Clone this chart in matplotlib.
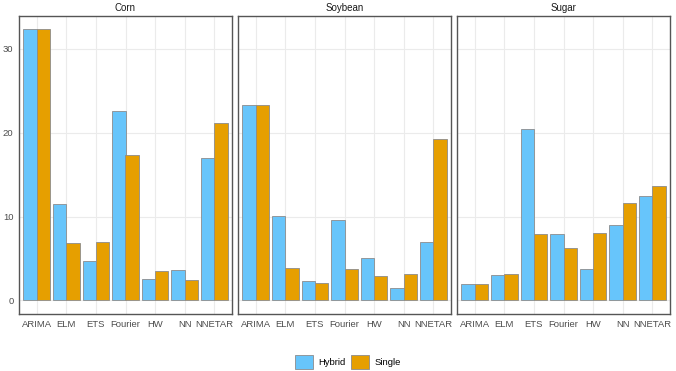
import numpy as np
import matplotlib as mpl

mpl.use("Agg")
mpl.rcParams["font.family"] = ["Liberation Sans", "DejaVu Sans"]

import matplotlib.pyplot as plt
from matplotlib.patches import Patch

methods = ["ARIMA", "ELM", "ETS", "Fourier", "HW", "NN", "NNETAR"]
crops = ["Corn", "Soybean", "Sugar"]

corn_hybrid = [32.3, 11.5, 4.7, 22.6, 2.5, 3.6, 17.0]
corn_single = [32.3, 6.8, 7.0, 17.3, 3.5, 2.4, 21.1]
soybean_hybrid = [23.3, 10.1, 2.3, 9.6, 5.0, 1.5, 7.0]
soybean_single = [23.3, 3.9, 2.1, 3.8, 2.9, 3.2, 19.2]
sugar_hybrid = [1.9, 3.0, 20.4, 7.9, 3.7, 9.0, 12.5]
sugar_single = [1.9, 3.1, 7.9, 6.2, 8.0, 11.6, 13.6]

hybrid = [corn_hybrid, soybean_hybrid, sugar_hybrid]
single = [corn_single, soybean_single, sugar_single]

hybrid_color = "#67C5FB"
single_color = "#E69F00"
edge_color = "#8C8C8C"
grid_color = "#EBEBEB"
text_color = "#4D4D4D"

fig = plt.figure(figsize=(6.76, 3.71), dpi=100)
W, H = 676.0, 371.0
lefts = [19, 238, 457]
pw = 213
top, bottom = 16, 314

x = np.arange(1, len(methods) + 1)
bw = 0.45
axes = []
for i, crop in enumerate(crops):
    ax = fig.add_axes([lefts[i] / W, 1 - bottom / H, pw / W, (bottom - top) / H])
    axes.append(ax)
    ax.bar(x - bw / 2, hybrid[i], width=bw, color=hybrid_color,
           edgecolor=edge_color, linewidth=0.6, zorder=3)
    ax.bar(x + bw / 2, single[i], width=bw, color=single_color,
           edgecolor=edge_color, linewidth=0.6, zorder=3)
    ax.set_xlim(0.4, 7.6)
    ax.set_ylim(-1.62, 33.9)
    ax.set_xticks(x)
    ax.set_xticklabels(methods)
    ax.set_yticks([0, 10, 20, 30])
    ax.grid(True, color=grid_color, linewidth=0.8, zorder=0)
    ax.tick_params(length=0, labelsize=6.8, colors=text_color, pad=4)
    for spine in ax.spines.values():
        spine.set_color("#555555")
        spine.set_linewidth(1.0)
    if i > 0:
        ax.set_yticklabels([])
    ax.set_title(crop, fontsize=7, color="#1A1A1A", pad=3.5)

handles = [Patch(facecolor=hybrid_color, edgecolor=edge_color, linewidth=0.6),
           Patch(facecolor=single_color, edgecolor=edge_color, linewidth=0.6)]
fig.legend(handles, ["Hybrid", "Single"], loc="center",
           bbox_to_anchor=(0.515, 1 - 362 / H), ncol=2, frameon=False,
           fontsize=6.8, handlelength=1.9, handleheight=1.9,
           columnspacing=0.6, handletextpad=0.6)

fig.savefig("out.png", dpi=100)
